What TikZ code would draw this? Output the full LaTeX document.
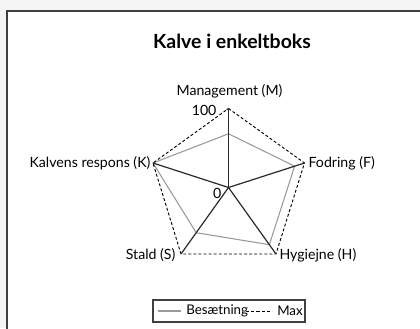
\documentclass[tikz,border=0pt]{standalone}
\usepackage{fontspec}
\setmainfont{Lato}
\usetikzlibrary{calc}
\definecolor{bgout}{HTML}{F4F5F4}
\definecolor{frame}{HTML}{404040}
\definecolor{series}{HTML}{9A9A9A}
\definecolor{axis}{HTML}{2A2A2A}
\begin{document}
\begin{tikzpicture}[x=0.75pt,y=-0.75pt,
  lbl/.style={font=\fontsize{10.6}{12}\selectfont, text=black, inner sep=1pt},
  leg/.style={font=\fontsize{10}{12}\selectfont, text=black, inner sep=0pt},
  spoke/.style={draw=axis, line width=0.9pt},
  maxline/.style={draw=black, dash pattern=on 2.2pt off 1.6pt, line width=0.7pt},
  serline/.style={draw=series, line width=0.8pt}]
\useasboundingbox (0,0) rectangle (420,328);
\fill[bgout] (0,0) rectangle (420,328);
\fill[white] (7,11) rectangle (425,333);
\draw[frame, line width=1.4pt] (425,11) -- (7,11) -- (7,333);
% title
\node[font=\fontsize{14.6}{17}\selectfont\bfseries] (title) at (232,41.5) {Kalve i enkeltboks};
% axes
\coordinate (O) at (228.5,187.5);
\coordinate (M) at (228.5,108.5);
\coordinate (F) at (304.5,163);
\coordinate (K) at (153,163);
\coordinate (S) at (181,254);
\coordinate (H) at (276,254);
% series
\coordinate (gM) at ($(O)!0.68!(M)$);
\coordinate (gF) at ($(O)!0.87!(F)$);
\coordinate (gK) at ($(O)!1.0!(K)$);
\coordinate (gS) at ($(O)!0.68!(S)$);
\coordinate (gH) at ($(O)!0.86!(H)$);
\draw[serline] (gM) -- (gF) -- (gH) -- (gS) -- (gK) -- cycle;
% max
\draw[maxline] (M) -- (F) -- (H) -- (S) -- (K) -- cycle;
% spokes
\foreach \p in {M,F,K,S,H} \draw[spoke] (O) -- (\p);
\draw[axis, line width=0.7pt] ($(M)+(-1.8,1.5)$) -- (M) -- ($(M)+(1.8,1.5)$);
% labels
\node[lbl] (lM) at (229.5,91) {Management (M)};
\node[lbl, anchor=east] (l100) at (218,110) {100};
\node[lbl, anchor=east] (l0) at (223,193) {0};
\node[lbl, anchor=east] (lK) at (152,163.5) {Kalvens respons (K)};
\node[lbl, anchor=west] (lF) at (307,163.5) {Fodring (F)};
\node[lbl, anchor=east] (lS) at (177,255) {Stald (S)};
\node[lbl, anchor=west] (lH) at (278,255.5) {Hygiejne (H)};
% legend
\draw[frame, line width=0.8pt] (153,300) rectangle (305,322);
\coordinate (ls1) at (158,311);
\coordinate (ls2) at (181,311);
\draw[serline] (ls1) -- (ls2);
\node[leg, anchor=west] (lb) at (186,311) {Besætning};
\coordinate (ld1) at (246,311.5);
\coordinate (ld2) at (272,311.5);
\draw[maxline, dash pattern=on 2.4pt off 1.5pt] (ld1) -- (ld2);
\node[leg, anchor=west] (lmax) at (277,311) {Max};
\end{tikzpicture}
\end{document}
